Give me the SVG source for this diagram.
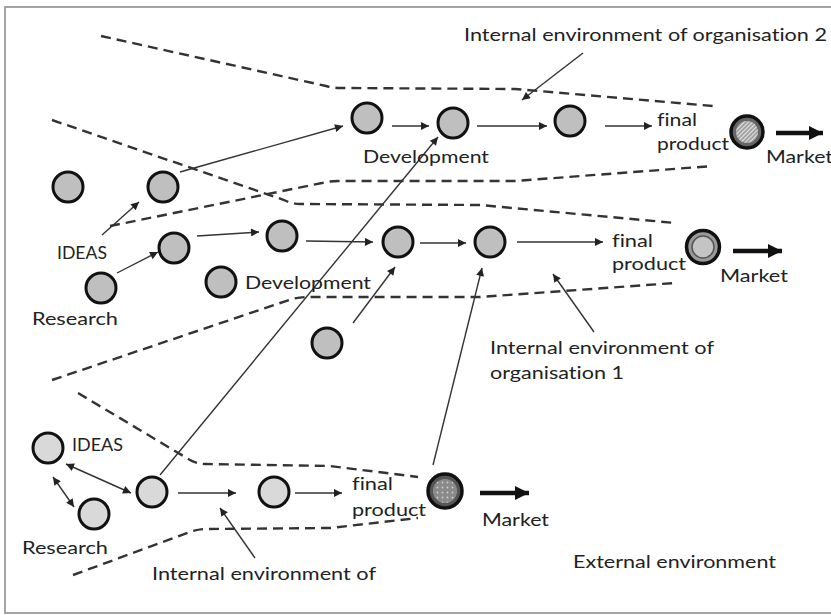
<svg xmlns="http://www.w3.org/2000/svg" width="831" height="615" viewBox="0 0 831 615">
  <defs>
    <style>
      .frame { fill: #fff; stroke: #8c8c8c; stroke-width: 1.6; }
      .bound { fill: none; stroke: #333; stroke-width: 2.4; stroke-dasharray: 10 6; }
      .conn { fill: none; stroke: #333; stroke-width: 1.4; }
      .thick { fill: none; stroke: #111; stroke-width: 4.5; }
      .node { fill: #bfbfbf; stroke: #111; stroke-width: 3; }
      .node-light { fill: #d9d9d9; stroke: #111; stroke-width: 3; }
      .lbl { font-family: Lato, "Open Sans", "Liberation Sans", sans-serif; font-size: 17px; fill: #222; font-variant-ligatures: none; }
    </style>
    <marker id="ah" viewBox="0 0 10 10" refX="10" refY="5" markerWidth="10" markerHeight="8" orient="auto-start-reverse" markerUnits="userSpaceOnUse">
      <path d="M0,0 L10,5 L0,10 z" fill="#222"/>
    </marker>
    <marker id="ahBig" viewBox="0 0 10 10" refX="10" refY="5" markerWidth="15" markerHeight="14" orient="auto" markerUnits="userSpaceOnUse">
      <path d="M0,0 L10,5 L0,10 z" fill="#111"/>
    </marker>
    <pattern id="hatch" width="3" height="3" patternUnits="userSpaceOnUse" patternTransform="rotate(45)">
      <rect width="3" height="3" fill="#9a9a9a"/>
      <rect width="1.2" height="3" fill="#e6e6e6"/>
    </pattern>
    <pattern id="dots" width="5" height="5" patternUnits="userSpaceOnUse">
      <rect width="5" height="5" fill="#8a8a8a"/>
      <circle cx="2.5" cy="2.5" r="0.9" fill="#d0d0d0"/>
    </pattern>
  </defs>

  <rect class="frame" x="5" y="7" width="840" height="606"/>

  <!-- organisation boundaries -->
  <g id="boundaries">
    <path class="bound" d="M101,36 L326,86 Q333,88 340,88 L515,89 L713,106"/>
    <path class="bound" d="M110,226 L322,183 Q330,181 338,181 L515,181 L713,166"/>
    <path class="bound" d="M52,120 L284,200 Q292,204 300,204 L480,205 L675,223"/>
    <path class="bound" d="M52,380 L292,299 Q300,297 308,297 L480,297 L675,283"/>
    <path class="bound" d="M78,393 L190,460 Q197,464 205,464 L330,466 L418,477"/>
    <path class="bound" d="M73,575 L190,532 Q198,529 206,529 L330,528 L418,518"/>
  </g>

  <!-- connectors -->
  <g id="connectors">
    <line class="conn" x1="180" y1="172" x2="343" y2="126" marker-end="url(#ah)"/>
    <line class="conn" x1="392" y1="126" x2="429" y2="126" marker-end="url(#ah)"/>
    <line class="conn" x1="477" y1="126" x2="547" y2="126" marker-end="url(#ah)"/>
    <line class="conn" x1="605" y1="126" x2="652" y2="126" marker-end="url(#ah)"/>
    <line class="thick" x1="776" y1="133" x2="823" y2="133" marker-end="url(#ahBig)"/>

    <line class="conn" x1="102" y1="235" x2="139" y2="202" marker-end="url(#ah)"/>
    <line class="conn" x1="117" y1="273" x2="158" y2="252" marker-end="url(#ah)"/>
    <line class="conn" x1="197" y1="236" x2="259" y2="232" marker-end="url(#ah)"/>
    <line class="conn" x1="306" y1="241" x2="373" y2="242" marker-end="url(#ah)"/>
    <line class="conn" x1="420" y1="243" x2="466" y2="243" marker-end="url(#ah)"/>
    <line class="conn" x1="517" y1="242" x2="603" y2="242" marker-end="url(#ah)"/>
    <line class="thick" x1="733" y1="251" x2="782" y2="251" marker-end="url(#ahBig)"/>
    <line class="conn" x1="353" y1="323" x2="395" y2="267" marker-end="url(#ah)"/>

    <line class="conn" x1="160" y1="475" x2="438" y2="137" marker-end="url(#ah)"/>
    <line class="conn" x1="433" y1="465" x2="482" y2="268" marker-end="url(#ah)"/>

    <line class="conn" x1="66" y1="464" x2="131" y2="493" marker-start="url(#ah)" marker-end="url(#ah)"/>
    <line class="conn" x1="53" y1="477" x2="74" y2="507" marker-start="url(#ah)" marker-end="url(#ah)"/>
    <line class="conn" x1="178" y1="493" x2="236" y2="493" marker-end="url(#ah)"/>
    <line class="conn" x1="295" y1="493" x2="342" y2="493" marker-end="url(#ah)"/>
    <line class="thick" x1="480" y1="493" x2="529" y2="493" marker-end="url(#ahBig)"/>

    <line class="conn" x1="583" y1="53" x2="522" y2="100" marker-end="url(#ah)"/>
    <line class="conn" x1="594" y1="332" x2="553" y2="274" marker-end="url(#ah)"/>
    <line class="conn" x1="255" y1="558" x2="220" y2="508" marker-end="url(#ah)"/>
  </g>

  <!-- organisation 2 -->
  <g id="org2-n1"><circle class="node" cx="367" cy="118" r="15"/></g>
  <g id="org2-n2"><circle class="node" cx="453" cy="123" r="15"/></g>
  <g id="org2-n3"><circle class="node" cx="570" cy="121" r="15"/></g>
  <g id="org2-product">
    <circle cx="747" cy="132" r="16" fill="#666" stroke="#111" stroke-width="3.5"/>
    <circle cx="747" cy="132" r="11" fill="url(#hatch)"/>
  </g>
  <g id="idea-a"><circle class="node" cx="68" cy="187" r="15"/></g>
  <g id="idea-b"><circle class="node" cx="163" cy="187" r="15"/></g>

  <!-- organisation 1 -->
  <g id="org1-n1"><circle class="node" cx="174" cy="248" r="15"/></g>
  <g id="org1-n2"><circle class="node" cx="282" cy="236" r="15"/></g>
  <g id="org1-n3"><circle class="node" cx="398" cy="242" r="15"/></g>
  <g id="org1-n4"><circle class="node" cx="490" cy="242" r="15"/></g>
  <g id="org1-research"><circle class="node" cx="101" cy="288" r="15"/></g>
  <g id="org1-dev"><circle class="node" cx="221" cy="282" r="15"/></g>
  <g id="org1-extra"><circle class="node" cx="327" cy="343" r="15"/></g>
  <g id="org1-product">
    <circle cx="703" cy="247" r="16.5" fill="#9a9a9a" stroke="#111" stroke-width="3.5"/>
    <circle cx="703" cy="247" r="11" fill="#c4c4c4" stroke="#555" stroke-width="1.5"/>
  </g>

  <!-- organisation 3 -->
  <g id="org3-ideas"><circle class="node-light" cx="48" cy="448" r="15"/></g>
  <g id="org3-research"><circle class="node-light" cx="94" cy="514" r="15"/></g>
  <g id="org3-n1"><circle class="node-light" cx="152" cy="492" r="15"/></g>
  <g id="org3-n2"><circle class="node-light" cx="274" cy="492" r="15"/></g>
  <g id="org3-product">
    <circle cx="445" cy="491" r="17" fill="#555" stroke="#111" stroke-width="3.5"/>
    <circle cx="445" cy="491" r="12" fill="url(#dots)"/>
  </g>

  <!-- labels -->
  <g id="labels">
    <text class="lbl" x="464" y="41" textLength="363" lengthAdjust="spacingAndGlyphs">Internal environment of organisation 2</text>
    <text class="lbl" x="363" y="163" textLength="126" lengthAdjust="spacingAndGlyphs">Development</text>
    <text class="lbl" x="657" y="126" textLength="40" lengthAdjust="spacingAndGlyphs">final</text>
    <text class="lbl" x="657" y="150" textLength="72" lengthAdjust="spacingAndGlyphs">product</text>
    <text class="lbl" x="766" y="163" textLength="67" lengthAdjust="spacingAndGlyphs">Market</text>

    <text class="lbl" x="57" y="259" textLength="50" lengthAdjust="spacingAndGlyphs">IDEAS</text>
    <text class="lbl" x="32" y="325" textLength="86" lengthAdjust="spacingAndGlyphs">Research</text>
    <text class="lbl" x="245" y="289" textLength="126" lengthAdjust="spacingAndGlyphs">Development</text>
    <text class="lbl" x="612" y="247" textLength="41" lengthAdjust="spacingAndGlyphs">final</text>
    <text class="lbl" x="612" y="270" textLength="74" lengthAdjust="spacingAndGlyphs">product</text>
    <text class="lbl" x="720" y="282" textLength="68" lengthAdjust="spacingAndGlyphs">Market</text>
    <text class="lbl" x="490" y="354" textLength="224" lengthAdjust="spacingAndGlyphs">Internal environment of</text>
    <text class="lbl" x="490" y="379" textLength="134" lengthAdjust="spacingAndGlyphs">organisation 1</text>

    <text class="lbl" x="72" y="451" textLength="51" lengthAdjust="spacingAndGlyphs">IDEAS</text>
    <text class="lbl" x="22" y="554" textLength="86" lengthAdjust="spacingAndGlyphs">Research</text>
    <text class="lbl" x="352" y="490" textLength="41" lengthAdjust="spacingAndGlyphs">final</text>
    <text class="lbl" x="352" y="516" textLength="74" lengthAdjust="spacingAndGlyphs">product</text>
    <text class="lbl" x="482" y="526" textLength="67" lengthAdjust="spacingAndGlyphs">Market</text>
    <text class="lbl" x="152" y="580" textLength="224" lengthAdjust="spacingAndGlyphs">Internal environment of</text>
    <text class="lbl" x="573" y="568" textLength="203" lengthAdjust="spacingAndGlyphs">External environment</text>
  </g>
</svg>
